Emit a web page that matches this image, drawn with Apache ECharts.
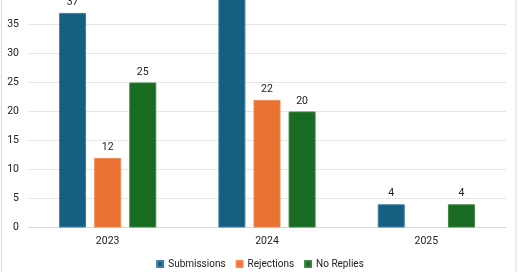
<!DOCTYPE html>
<html>
<head>
<meta charset="utf-8">
<script src="https://cdn.jsdelivr.net/npm/echarts@6/dist/echarts.min.js"></script>
<style>
  html, body { margin: 0; padding: 0; background: #fff; }
  #chart { width: 520px; height: 272px; }
</style>
</head>
<body>
<div id="chart"></div>
<script>
// Yearly tallies of submissions and their outcomes
const years = ['2023', '2024', '2025'];
const submissions = [37, 42, 4];
const rejections = [12, 22, null];
const noReplies = [25, 20, 4];

const FONT = "'Liberation Sans Narrow', 'Arial Narrow', Roboto, sans-serif";

function barSeries(name, data, color, border) {
  return {
    name: name,
    type: 'bar',
    data: data,
    barWidth: 27,
    barGap: '30%',
    itemStyle: { color: color, borderColor: border, borderWidth: 1 },
    label: {
      show: true,
      position: 'top',
      distance: 5,
      color: '#222',
      fontFamily: FONT,
      fontSize: 10.5
    }
  };
}

const chart = echarts.init(document.getElementById('chart'));
chart.setOption({
  animation: false,
  backgroundColor: '#fff',
  textStyle: { fontFamily: FONT },
  graphic: [{
    type: 'rect',
    shape: { x: 1.5, y: -20, width: 514.5, height: 400 },
    style: { fill: 'none', stroke: '#d9d9d9', lineWidth: 1 },
    silent: true
  }],
  grid: {
    left: 28, right: 14, top: -33.5, bottom: 44.5,
    containLabel: false, outerBoundsMode: 'none'
  },
  legend: {
    data: ['Submissions', 'Rejections', 'No Replies'],
    bottom: -2,
    left: 'center',
    itemWidth: 6,
    itemHeight: 6,
    itemGap: 10,
    icon: 'rect',
    textStyle: { fontFamily: FONT, fontSize: 10, color: '#222' }
  },
  xAxis: {
    type: 'category',
    data: years,
    axisLine: { lineStyle: { color: '#d9d9d9', width: 1 } },
    axisTick: { show: false },
    axisLabel: { color: '#222', fontFamily: FONT, fontSize: 10.5, margin: 8 }
  },
  yAxis: {
    type: 'value',
    min: 0,
    max: 45,
    interval: 5,
    axisLine: { show: false },
    axisTick: { show: false },
    splitLine: { lineStyle: { color: '#e6e6e6', width: 1 } },
    axisLabel: { color: '#222', fontFamily: FONT, fontSize: 10.5, margin: 9 }
  },
  series: [
    barSeries('Submissions', submissions, '#156082', '#3f7e9c'),
    barSeries('Rejections', rejections, '#E97132', '#f08a55'),
    barSeries('No Replies', noReplies, '#196B24', '#3d8545')
  ]
});
</script>
</body>
</html>
